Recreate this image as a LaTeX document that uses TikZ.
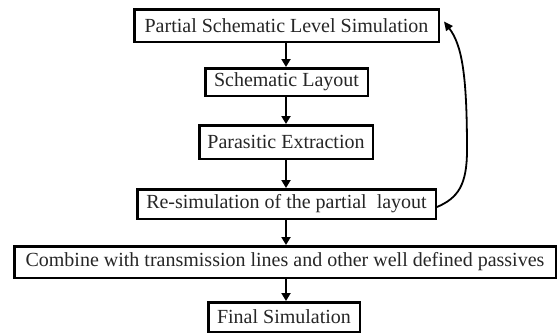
\documentclass[tikz,border=0pt]{standalone}
\usepackage{fontspec}
\setmainfont{Liberation Serif}
\usetikzlibrary{arrows.meta}
\begin{document}
\begin{tikzpicture}[x=1pt,y=-1pt,
  stepbox/.style={draw=black, fill=white, line width=2.5pt, inner sep=0pt,
    text=black!85, font=\fontsize{20}{24}\selectfont},
  flow/.style={line width=2pt, -{Triangle[length=8pt,width=9pt]}},
  loopback/.style={line width=1.8pt, -{Triangle[length=9pt,width=8pt]}}]
  \useasboundingbox (0,0) rectangle (559,335);

  \node[stepbox, minimum width=304.5pt, minimum height=32.5pt] (b1) at (286.5,25.5)
    {Partial Schematic Level Simulation};
  \node[stepbox, minimum width=162.5pt, minimum height=27.5pt] (b2) at (286.5,82)
    {Schematic Layout};
  \node[stepbox, minimum width=173.5pt, minimum height=33.5pt] (b3) at (286,142)
    {Parasitic Extraction};
  \node[stepbox, minimum width=298.5pt, minimum height=29.5pt] (b4) at (286.5,204)
    {Re-simulation of the partial\ \ layout};
  \node[stepbox, minimum width=541.5pt, minimum height=31.5pt] (b5) at (285,262)
    {Combine with transmission lines and other well defined passives};
  \node[stepbox, minimum width=151.5pt, minimum height=29.5pt] (b6) at (284,317)
    {Final Simulation};

  % main flow
  \draw[flow] (286,0 |- b1.south) -- (286,0 |- b2.north);
  \draw[flow] (286,0 |- b2.south) -- (286,0 |- b3.north);
  \draw[flow] (286,0 |- b3.south) -- (286,0 |- b4.north);
  \draw[flow] (286,0 |- b4.south) -- (286,0 |- b5.north);
  \draw[flow] (286,0 |- b5.south) -- (286,0 |- b6.north);

  % feedback from re-simulation to the schematic level
  \draw[loopback] ([yshift=-3pt]b4.east) .. controls (458,198) and (467,185) .. (467,150)
    .. controls (467,75) and (462,45) .. ([xshift=4pt,yshift=4pt]b1.east);
\end{tikzpicture}
\end{document}
